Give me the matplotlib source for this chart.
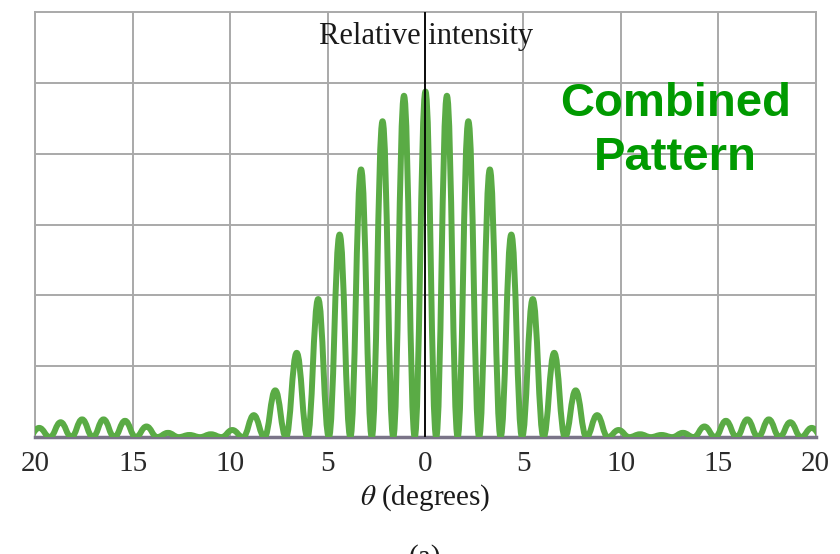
import matplotlib.pyplot as plt
from matplotlib.path import Path
from matplotlib.patches import PathPatch

# fringe maxima (theta in degrees, intensity in grid units)
peak_theta = [-19.8, -18.7, -17.6, -16.5, -15.4, -14.3, -13.2, -12.1, -11.0, -9.9,
              -8.8, -7.7, -6.6, -5.5, -4.4, -3.3, -2.2, -1.1, 0.0,
              1.1, 2.2, 3.3, 4.4, 5.5, 6.6, 7.7, 8.8, 9.9,
              11.0, 12.1, 13.2, 14.3, 15.4, 16.5, 17.6, 18.7, 19.8]
peak_int = [0.13, 0.21, 0.25, 0.25, 0.23, 0.15, 0.06, 0.03, 0.04, 0.10,
            0.31, 0.66, 1.19, 1.95, 2.86, 3.78, 4.46, 4.82, 4.88,
            4.82, 4.46, 3.78, 2.86, 1.95, 1.19, 0.66, 0.31, 0.10,
            0.04, 0.03, 0.06, 0.15, 0.23, 0.25, 0.25, 0.21, 0.13]

# dark fringes between them
trough_theta = [-20.35, -19.25, -18.15, -17.05, -15.95, -14.85, -13.75, -12.65, -11.55, -10.45,
                -9.35, -8.25, -7.15, -6.05, -4.95, -3.85, -2.75, -1.65, -0.55,
                0.55, 1.65, 2.75, 3.85, 4.95, 6.05, 7.15, 8.25, 9.35,
                10.45, 11.55, 12.65, 13.75, 14.85, 15.95, 17.05, 18.15, 19.25, 20.35]
trough_int = [0.0, 0.0, 0.0, 0.0, 0.0, 0.0, 0.0, 0.0, 0.0, 0.0,
              0.0, 0.0, 0.0, 0.0, 0.0, 0.0, 0.0, 0.0, 0.0,
              0.0, 0.0, 0.0, 0.0, 0.0, 0.0, 0.0, 0.0, 0.0,
              0.0, 0.0, 0.0, 0.0, 0.0, 0.0, 0.0, 0.0, 0.0, 0.0]

xticks = [-20, -15, -10, -5, 0, 5, 10, 15, 20]
xtick_labels = ['20', '15', '10', '5', '0', '5', '10', '15', '20']
yticks = [1, 2, 3, 4, 5]

serif = 'Liberation Serif'
plt.rcParams['mathtext.fontset'] = 'stix'

fig = plt.figure(figsize=(8.4, 5.54), dpi=100)
ax = fig.add_axes([0.042, 0.211, 0.929, 0.767])

# smooth curve through maxima and minima (horizontal tangents at each)
pts = sorted(zip(trough_theta + peak_theta, trough_int + peak_int))
verts = [pts[0]]
codes = [Path.MOVETO]
k = 0.43
for (x0, y0), (x1, y1) in zip(pts[:-1], pts[1:]):
    dx = x1 - x0
    verts += [(x0 + k * dx, y0), (x1 - k * dx, y1), (x1, y1)]
    codes += [Path.CURVE4] * 3
curve = PathPatch(Path(verts, codes), fill=False, edgecolor='#5aab45', lw=4.3,
                  joinstyle='round', zorder=3)
ax.add_patch(curve)

ax.axvline(0, color='black', lw=1.3, zorder=4)

ax.set_xlim(-20, 20)
ax.set_ylim(0, 6)
ax.set_xticks(xticks)
ax.set_xticklabels(xtick_labels, fontfamily=serif, fontsize=21, color='#2a2a2a')
ax.set_yticks(yticks)
ax.set_yticklabels([])
ax.tick_params(length=0, pad=10)
ax.grid(True, color='#a9a9a9', lw=1.4)
ax.set_axisbelow(True)
for side in ['top', 'left', 'right']:
    ax.spines[side].set_color('#a9a9a9')
    ax.spines[side].set_linewidth(1.4)
ax.spines['bottom'].set_color('#7a7488')
ax.spines['bottom'].set_linewidth(2.5)

ax.set_xlabel(r'$\theta$ (degrees)', fontfamily=serif, fontsize=21, color='#1a1a1a', labelpad=4)

ax.text(0.05, 5.55, 'Relative intensity', fontfamily=serif, fontsize=22,
        color='#1a1a1a', ha='center', va='baseline')
ax.text(12.8, 4.32, 'Combined\nPattern', fontfamily='Liberation Sans', fontweight='bold',
        fontsize=34, color='#009a00', ha='center', va='center', linespacing=1.3)

fig.text(0.506, -0.02, '(a)', fontfamily=serif, fontsize=21, color='#1a1a1a',
         ha='center', va='baseline')

fig.savefig('out.png', dpi=100)
